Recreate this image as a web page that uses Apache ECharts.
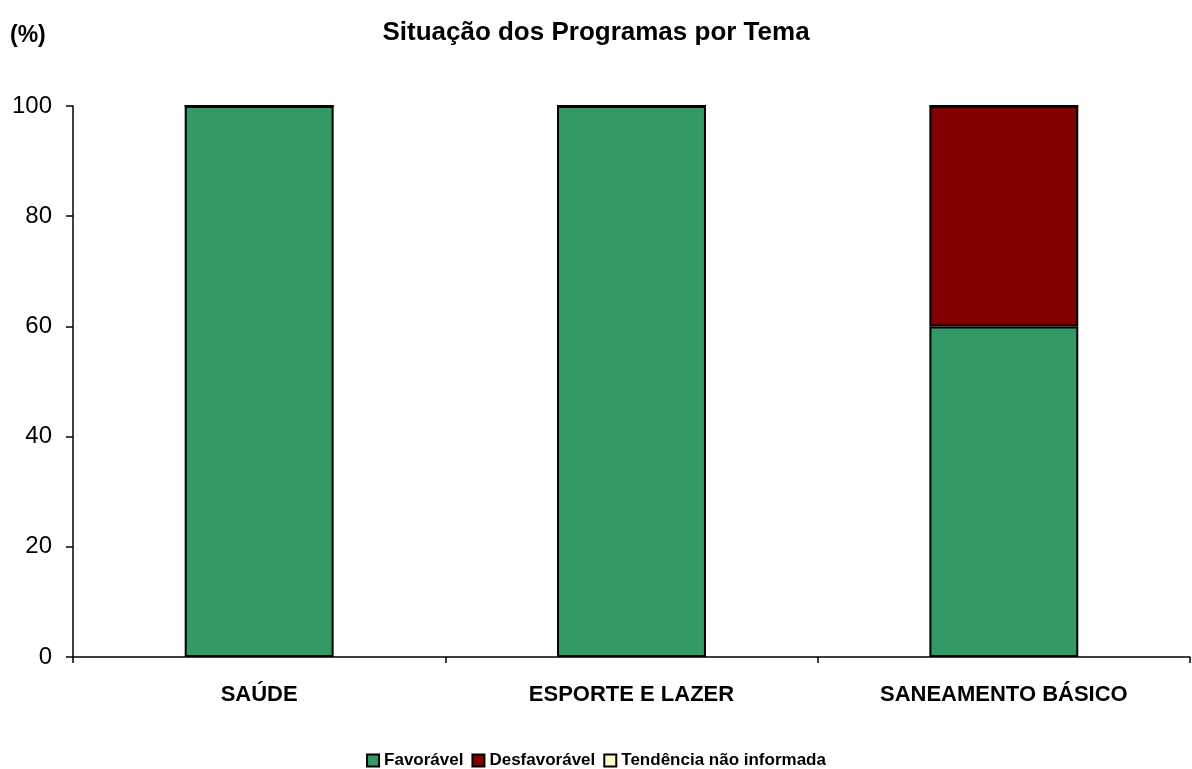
<!DOCTYPE html>
<html lang="pt">
<head>
  <meta charset="utf-8">
  <title>Situação dos Programas por Tema</title>
  <script type="text/javascript" src="https://fastly.jsdelivr.net/npm/echarts@6/dist/echarts.min.js"></script>
  <style type="text/css">
    * { margin: 0; padding: 0; }
    html, body, #chart { width: 1192px; height: 769px; overflow: hidden; background: #fff; }
  </style>
</head>
<body>
  <div id="chart"></div>
  <script type="text/javascript">
    // dados
    var temas = ['SAÚDE', 'ESPORTE E LAZER', 'SANEAMENTO BÁSICO'];
    var favoravel = [100, 100, 60];
    var desfavoravel = [0, 0, 40];
    var naoInformada = [0, 0, 0];
    var yTicks = [0, 20, 40, 60, 80, 100];

    var font = 'Liberation Sans, Arial, sans-serif';

    function serie(nome, dados, cor) {
      return {
        name: nome,
        type: 'bar',
        stack: 'total',
        barWidth: '40%',
        data: dados,
        itemStyle: { color: cor, borderColor: '#000', borderWidth: 2 }
      };
    }

    var option = {
      animation: false,
      title: {
        text: 'Situação dos Programas por Tema',
        left: 'center',
        top: 15,
        textStyle: { fontFamily: font, fontSize: 26, fontWeight: 'bold', color: '#000' }
      },
      graphic: [{
        type: 'text',
        left: 10,
        top: 24,
        style: { text: '(%)', font: 'bold 23px ' + font, fill: '#000' }
      }],
      legend: {
        top: 747,
        left: 'center',
        icon: 'rect',
        itemWidth: 12,
        itemHeight: 12,
        itemGap: 8,
        textStyle: { fontFamily: font, fontSize: 17, fontWeight: 'bold', color: '#000' },
        data: ['Favorável', 'Desfavorável', 'Tendência não informada']
      },
      grid: { left: 73, right: 2, top: 106, bottom: 112, containLabel: false },
      xAxis: {
        type: 'category',
        data: temas,
        axisLine: { lineStyle: { color: '#000', width: 1.5 } },
        axisTick: { show: true, length: 6, lineStyle: { color: '#000', width: 1.5 } },
        axisLabel: { margin: 27, fontFamily: font, fontSize: 22, fontWeight: 'bold', color: '#000' }
      },
      yAxis: {
        type: 'value',
        min: yTicks[0],
        max: yTicks[yTicks.length - 1],
        interval: 20,
        splitLine: { show: false },
        axisLine: { show: true, lineStyle: { color: '#000', width: 1.5 } },
        axisTick: { show: true, length: 7, lineStyle: { color: '#000', width: 1.5 } },
        axisLabel: { margin: 21, fontFamily: font, fontSize: 24, color: '#000' }
      },
      series: [
        serie('Favorável', favoravel, '#339966'),
        serie('Desfavorável', desfavoravel, '#800000'),
        serie('Tendência não informada', naoInformada, '#FFFFCC')
      ]
    };

    var chart = echarts.init(document.getElementById('chart'));
    chart.setOption(option);
  </script>
</body>
</html>
